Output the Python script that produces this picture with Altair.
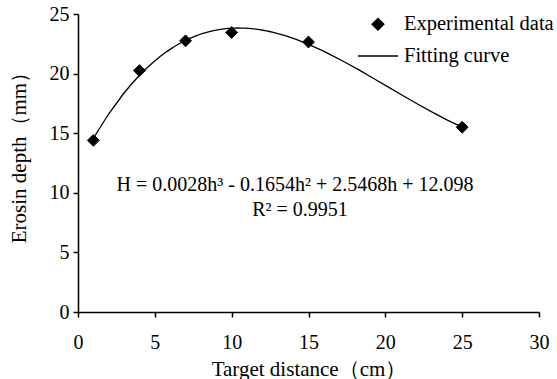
import altair as alt
import pandas as pd

# Data
distance = [1, 4, 7, 10, 15, 25]
depth = [14.4, 20.25, 22.75, 23.45, 22.65, 15.5]
series_names = ["Experimental data", "Fitting curve"]
x_ticks = [0, 5, 10, 15, 20, 25, 30]
y_ticks = [0, 5, 10, 15, 20, 25]
equation = "H = 0.0028h\u00b3  - 0.1654h\u00b2  + 2.5468h  + 12.098"
r_squared = "R\u00b2 = 0.9951"

df = pd.DataFrame({"distance": distance, "depth": depth,
                   "series": ["Experimental data"] * len(distance)})
notes = pd.DataFrame({"label": [equation, r_squared]})

FONT = "Liberation Serif"
FS = 20

x_enc = alt.X("distance:Q",
              scale=alt.Scale(domain=[0, 30], nice=False, zero=False),
              axis=alt.Axis(values=x_ticks, title="Target distance\uff08cm\uff09",
                            labelPadding=15, titleBaseline="alphabetic",
                            titleY=63))
y_enc = alt.Y("depth:Q",
              scale=alt.Scale(domain=[0, 25], nice=False),
              axis=alt.Axis(values=y_ticks, title="Erosin depth\uff08mm\uff09",
                            labelPadding=4, titleBaseline="alphabetic",
                            titleX=-53, titleY=138, titleAngle=-90))

legend = alt.Legend(title=None, orient="none", legendX=279, legendY=0,
                    labelOffset=5, padding=0, rowPadding=0,
                    labelFontSize=20.5, labelFont=FONT, labelLimit=300,
                    symbolFillColor="black", symbolStrokeWidth=1.3)

curve = alt.Chart(df).transform_regression(
    "distance", "depth", method="poly", order=3, extent=[1, 25]
).mark_line(color="black", strokeWidth=1.3).encode(x=x_enc, y=y_enc)

points = alt.Chart(df).mark_point(
    filled=True, color="black", strokeWidth=1, opacity=1
).encode(
    x=x_enc, y=y_enc,
    shape=alt.Shape("series:N", scale=alt.Scale(domain=series_names,
                                                 range=["diamond", "stroke"]),
                    legend=legend),
    size=alt.Size("series:N", scale=alt.Scale(domain=series_names,
                                               range=[140, 1600]),
                  legend=legend),
    stroke=alt.Stroke("series:N", scale=alt.Scale(domain=series_names,
                                                   range=["black", "black"]),
                      legend=legend),
)

eq_text = alt.Chart(notes).transform_filter(
    alt.datum.label == equation
).mark_text(
    font=FONT, fontSize=FS, color="black", baseline="middle", align="center"
).encode(text="label:N", x=alt.value(217), y=alt.value(171))

r2_text = alt.Chart(notes).transform_filter(
    alt.datum.label == r_squared
).mark_text(
    font=FONT, fontSize=FS, color="black", baseline="middle", align="center"
).encode(text="label:N", x=alt.value(222), y=alt.value(196))

chart = alt.layer(curve, points, eq_text, r2_text).properties(
    width=461, height=298,
    autosize="none",
    padding={"left": 78, "top": 14, "right": 18, "bottom": 67},
    background="white",
).configure_view(stroke=None).configure_axis(
    grid=False, domainColor="black", domainWidth=1.5, tickColor="black",
    tickWidth=1.5, tickSize=5, labelFont=FONT, labelFontSize=FS,
    labelColor="black", titleFont=FONT, titleFontSize=21, titleColor="black",
    titleFontWeight="normal", labelFlush=False, labelOverlap=False
).configure_legend(
    labelFont=FONT, labelFontSize=20.5, labelColor="black"
)

chart.save("out.html", embed_options={"renderer": "svg", "actions": False})
